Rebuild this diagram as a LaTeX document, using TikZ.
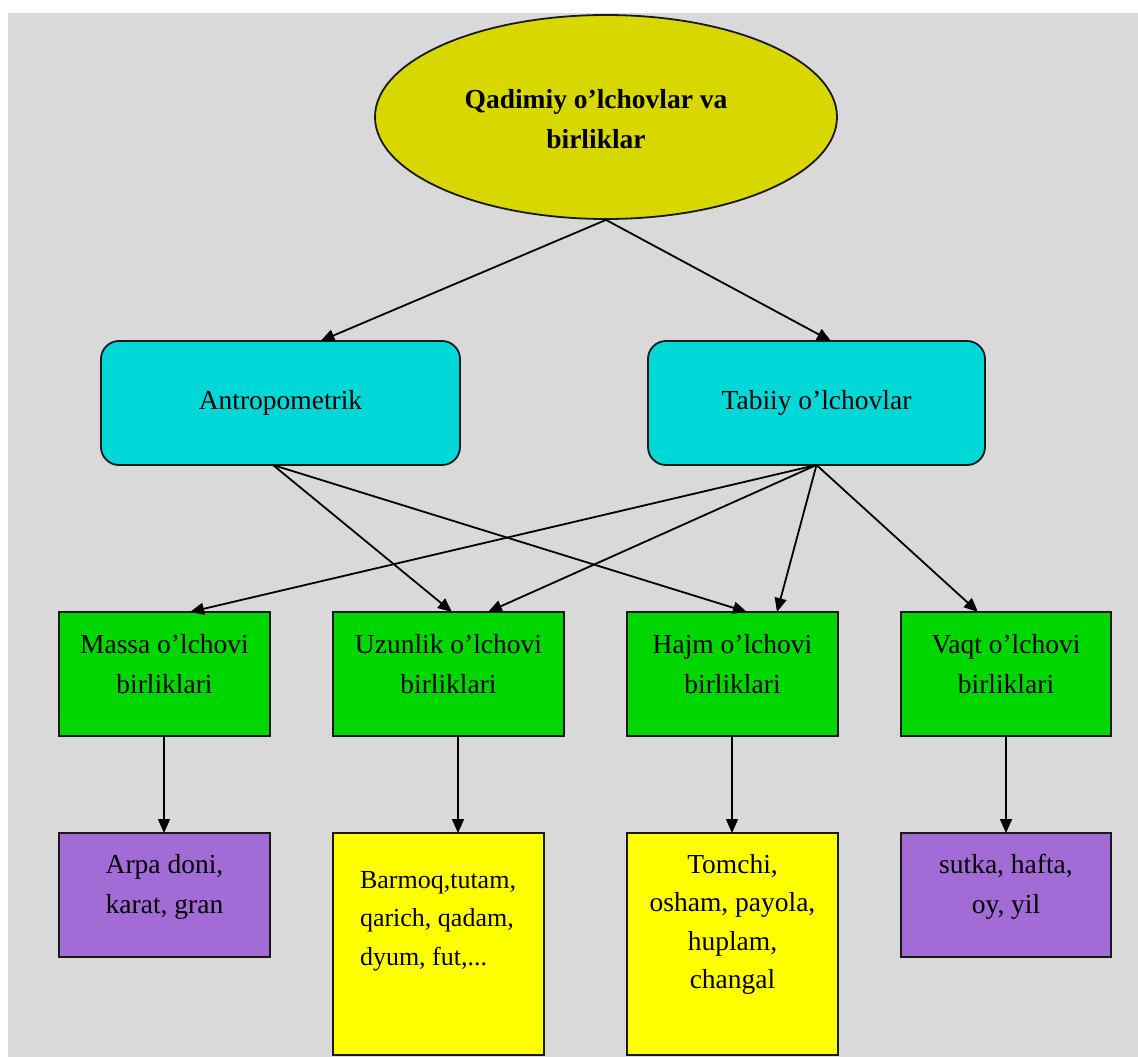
\documentclass[tikz,border=0pt]{standalone}
\usepackage{fontspec}
\setmainfont{Liberation Serif}
\usetikzlibrary{shapes.geometric,arrows.meta}

\definecolor{bgGray}{RGB}{217,217,217}
\definecolor{titleYellow}{RGB}{216,216,0}
\definecolor{boxCyan}{RGB}{0,215,215}
\definecolor{boxGreen}{RGB}{0,214,0}
\definecolor{boxPurple}{RGB}{163,107,214}
\definecolor{boxYellow}{RGB}{255,255,0}
\definecolor{edgeDark}{RGB}{25,25,25}

% text block of fixed size: width, height, first baseline from top, lines
\newcommand\topblock[4]{\parbox[c][#2][t]{#1}{\centering\fontsize{27.5}{40}\selectfont\rule{0pt}{#3}#4}}

\begin{document}
\begin{tikzpicture}[x=1pt,y=-1pt,
  box/.style={draw=edgeDark, line width=1.8pt, inner sep=0pt, outer sep=0pt},
  conn/.style={draw=black, line width=1.8pt, -{Triangle[length=14pt,width=12pt]}},
  lvlbox/.style={box, fill=boxCyan, rounded corners=18pt, minimum height=124pt,
    font=\fontsize{27.5}{33}\selectfont, text height=18pt, text depth=6pt}]

\useasboundingbox (0,0) rectangle (1138,1057);
\fill[white] (0,0) rectangle (1138,1057);
\fill[bgGray] (8,13) rectangle (1138,1057);

% root
\node[ellipse, draw=edgeDark, line width=1.8pt, fill=titleYellow, inner sep=0pt,
  minimum width=462pt, minimum height=204pt, align=center,
  font=\bfseries\fontsize{27.5}{40}\selectfont]
  (title) at (606,117) {\rule{0pt}{23pt}Qadimiy o’lchovlar va\hspace*{20pt}\\birliklar\hspace*{20pt}};

% second level
\node[lvlbox, minimum width=359pt] (antro) at (280.5,403) {Antropometrik};
\node[lvlbox, minimum width=337pt] (tabiiy) at (816.5,403) {Tabiiy o’lchovlar};

% unit groups
\node[box, fill=boxGreen] (massa) at (164.5,674)
  {\topblock{211pt}{124pt}{41pt}{Massa o’lchovi\\birliklari}};
\node[box, fill=boxGreen] (uzun) at (448.5,674)
  {\topblock{231pt}{124pt}{41pt}{Uzunlik o’lchovi\\birliklari}};
\node[box, fill=boxGreen] (hajm) at (732.5,674)
  {\topblock{211pt}{124pt}{41pt}{Hajm o’lchovi\\birliklari}};
\node[box, fill=boxGreen] (vaqt) at (1006,674)
  {\topblock{210pt}{124pt}{41pt}{Vaqt o’lchovi\\birliklari}};

% examples
\node[box, fill=boxPurple] (arpa) at (164.5,895)
  {\topblock{211pt}{124pt}{40pt}{Arpa doni,\\karat, gran}};
\node[box, fill=boxYellow] (barmoq) at (438.5,944)
  {\parbox[c][222pt][t]{211pt}{\raggedright\leftskip=27pt\fontsize{26}{38.5}\selectfont
   \rule{0pt}{55pt}Barmoq,tutam,\\qarich, qadam,\\dyum, fut,...}};
\node[box, fill=boxYellow] (tomchi) at (732.5,944)
  {\parbox[c][222pt][t]{211pt}{\centering\fontsize{27.5}{38.5}\selectfont
   \rule{0pt}{40pt}Tomchi,\\osham, payola,\\huplam,\\changal}};
\node[box, fill=boxPurple] (sutka) at (1006,895)
  {\topblock{210pt}{124pt}{40pt}{sutka, hafta,\\oy, yil}};

% connectors
\draw[conn] (title.south) -- ([xshift=40pt]antro.north);
\draw[conn] (title.south) -- ([xshift=14.5pt]tabiiy.north);

\draw[conn] ([xshift=-7.5pt]antro.south) -- ([xshift=3.5pt]uzun.north);
\draw[conn] ([xshift=-7.5pt]antro.south) -- ([xshift=14.5pt]hajm.north);
\draw[conn] (tabiiy.south) -- ([xshift=25.5pt]massa.north);
\draw[conn] (tabiiy.south) -- ([xshift=39.5pt]uzun.north);
\draw[conn] (tabiiy.south) -- ([xshift=44.5pt]hajm.north);
\draw[conn] (tabiiy.south) -- ([xshift=-28pt]vaqt.north);

\draw[conn] ([xshift=-0.5pt]massa.south) -- ([xshift=-0.5pt]arpa.north);
\draw[conn] ([xshift=9.5pt]uzun.south) -- ([xshift=19.5pt]barmoq.north);
\draw[conn] ([xshift=-0.5pt]hajm.south) -- ([xshift=-0.5pt]tomchi.north);
\draw[conn] (vaqt.south) -- (sutka.north);
\end{tikzpicture}
\end{document}
